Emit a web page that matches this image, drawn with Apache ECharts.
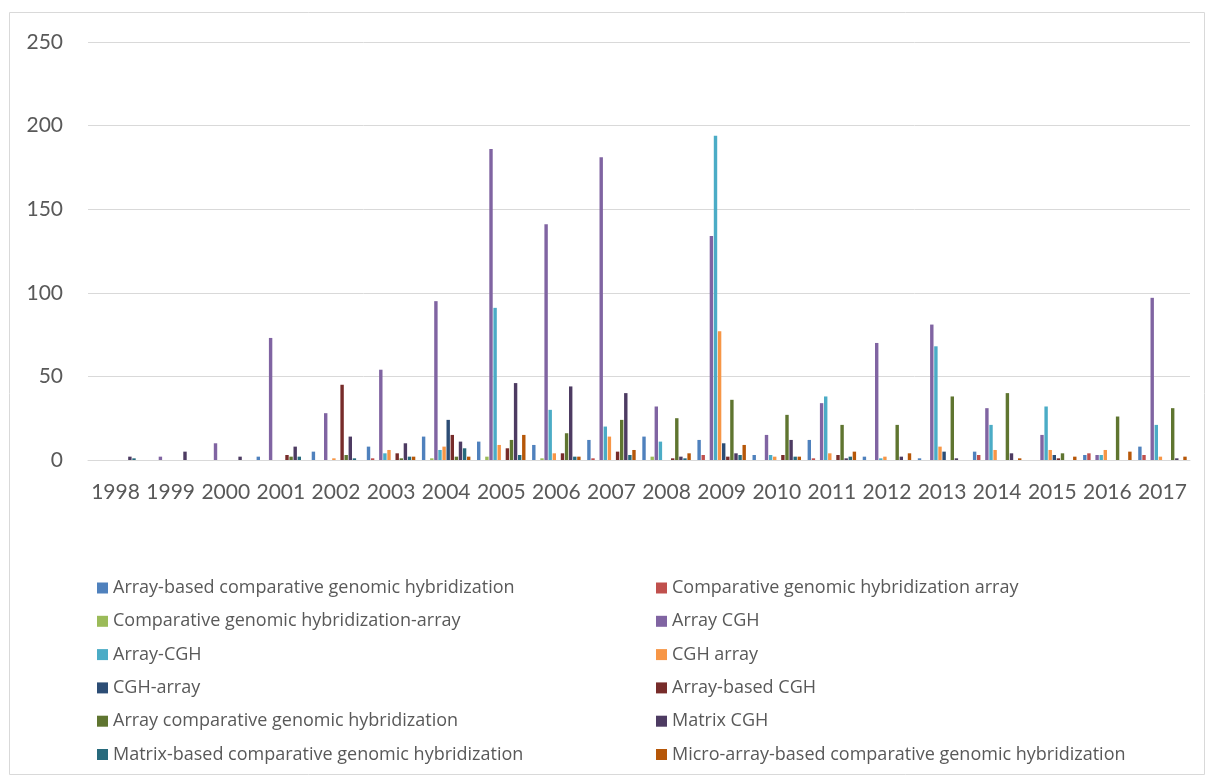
<!DOCTYPE html>
<html>
<head>
<meta charset="utf-8">
<script src="https://cdn.jsdelivr.net/npm/echarts@6/dist/echarts.min.js"></script>
<style>
html,body{margin:0;padding:0;background:#fff;}
#chart{width:1206px;height:776px;}
</style>
</head>
<body>
<div id="chart"></div>
<script>
const years = ['1998','1999','2000','2001','2002','2003','2004','2005','2006','2007','2008','2009','2010','2011','2012','2013','2014','2015','2016','2017'];
const yTicks = [0, 50, 100, 150, 200, 250];

const seriesNames = [
  'Array-based comparative genomic hybridization',
  'Comparative genomic hybridization array',
  'Comparative genomic hybridization-array',
  'Array CGH',
  'Array-CGH',
  'CGH array',
  'CGH-array',
  'Array-based CGH',
  'Array comparative genomic hybridization',
  'Matrix CGH',
  'Matrix-based comparative genomic hybridization',
  'Micro-array-based comparative genomic hybridization'
];
const seriesColors = ['#4F81BD','#C0504D','#9BBB59','#8064A2','#4BACC6','#F79646','#2C4D75','#772C2A','#5F7530','#4D3B62','#276A7C','#B65708'];

const arrayBasedCGHFull   = [0,0,0,2,5,8,14,11,9,12,14,12,3,12,2,1,5,0,3,8];
const cghArraySpaced      = [0,0,0,0,0,1,0,0,0,1,0,3,0,1,0,0,3,0,4,3];
const cghArrayHyphenFull  = [0,0,0,0,0,0,1,2,1,0,2,0,0,0,0,0,0,0,0,0];
const arrayCGH            = [0,2,10,73,28,54,95,186,141,181,32,134,15,34,70,81,31,15,3,97];
const arrayHyphenCGH      = [0,0,0,0,0,4,6,91,30,20,11,194,3,38,1,68,21,32,3,21];
const cghArray            = [0,0,0,0,1,6,8,9,4,14,0,77,2,4,2,8,6,6,6,2];
const cghHyphenArray      = [0,0,0,0,0,0,24,0,0,0,0,10,0,0,0,5,0,3,0,0];
const arrayBasedCGH       = [0,0,0,3,45,4,15,7,4,5,1,2,3,3,0,0,0,1,0,0];
const arrayCompGenHyb     = [0,0,0,2,3,1,2,12,16,24,25,36,27,21,21,38,40,4,26,31];
const matrixCGH           = [2,5,2,8,14,10,11,46,44,40,2,4,12,1,2,1,4,0,0,1];
const matrixBasedCGH      = [1,0,0,2,1,2,7,3,2,3,1,3,2,2,0,0,0,0,0,0];
const microArrayBasedCGH  = [0,0,0,0,0,2,2,15,2,6,4,9,2,5,4,0,1,2,5,2];

const seriesValues = [arrayBasedCGHFull, cghArraySpaced, cghArrayHyphenFull, arrayCGH, arrayHyphenCGH, cghArray,
  cghHyphenArray, arrayBasedCGH, arrayCompGenHyb, matrixCGH, matrixBasedCGH, microArrayBasedCGH];

const AXIS_FONT = 'Lato';
const LEGEND_FONT = 'Open Sans';
const TXT = '#595959';

const chart = echarts.init(document.getElementById('chart'), null, {renderer: 'canvas'});

const series = seriesNames.map((n, i) => ({
  name: n,
  type: 'bar',
  data: seriesValues[i],
  barGap: '20%',
  barCategoryGap: '12%',
  itemStyle: {color: seriesColors[i]},
  emphasis: {disabled: true}
}));

const legendText = {color: TXT, fontFamily: LEGEND_FONT, fontSize: 18, lineHeight: 20};

chart.setOption({
  animation: false,
  color: seriesColors,
  graphic: [{
    type: 'rect',
    shape: {x: 9.5, y: 12.5, width: 1195, height: 762},
    style: {fill: 'none', stroke: '#d9d9d9', lineWidth: 1},
    silent: true
  }],
  grid: {left: 88, right: 16, top: 42, bottom: 316, containLabel: false},
  xAxis: {
    type: 'category',
    data: years,
    axisLine: {lineStyle: {color: '#d9d9d9', width: 1}},
    axisTick: {show: false},
    axisLabel: {color: TXT, fontFamily: AXIS_FONT, fontSize: 21, margin: 22, interval: 0}
  },
  yAxis: {
    type: 'value',
    min: yTicks[0],
    max: yTicks[yTicks.length - 1],
    interval: 50,
    axisLine: {show: false},
    axisTick: {show: false},
    splitLine: {lineStyle: {color: '#d9d9d9', width: 1}},
    axisLabel: {color: TXT, fontFamily: AXIS_FONT, fontSize: 21, margin: 25}
  },
  legend: [
    {
      orient: 'vertical', left: 97, top: 578,
      icon: 'rect', itemWidth: 11, itemHeight: 11, itemGap: 13.3,
      textStyle: legendText, padding: 0,
      data: seriesNames.filter((_, i) => i % 2 === 0),
      selectedMode: false
    },
    {
      orient: 'vertical', left: 656, top: 578,
      icon: 'rect', itemWidth: 11, itemHeight: 11, itemGap: 13.3,
      textStyle: legendText, padding: 0,
      data: seriesNames.filter((_, i) => i % 2 === 1),
      selectedMode: false
    }
  ],
  series: series
});
</script>
</body>
</html>
